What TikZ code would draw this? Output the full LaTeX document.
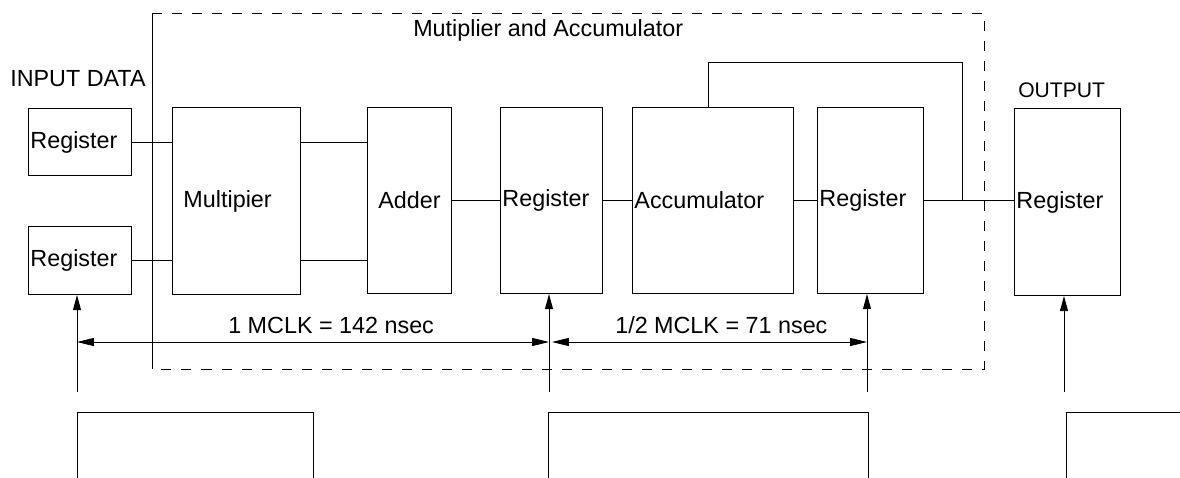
\documentclass[tikz,border=0pt]{standalone}
\usepackage{fontspec}
\setmainfont{Liberation Sans}
\usepackage{tikz}
\usetikzlibrary{arrows.meta,positioning}

\begin{document}
\begin{tikzpicture}[x=0.025cm,y=-0.025cm,
  every node/.style={font=\fontsize{16.6}{19}\selectfont},
  blk/.style={draw,line width=0.7pt,anchor=north west,align=left,
    inner ysep=0pt,inner xsep=0.05cm},
  lbl/.style={anchor=base west,inner sep=0pt},
  wire/.style={line width=0.6pt},
  clkarrow/.style={line width=0.7pt,-{Triangle[length=0.38cm,width=0.2cm]}},
  dimarrow/.style={line width=0.6pt,
    {Triangle[length=0.42cm,width=0.2cm]}-{Triangle[length=0.42cm,width=0.2cm]}},
  frame/.style={line width=0.6pt,dash pattern=on 0.25cm off 0.25cm},
]
\useasboundingbox (0,0) rectangle (1180,478);

% the multiplier and accumulator frame
\draw[frame] (152,13) -- (984,13) -- (984,369) -- (152,369);
\draw[line width=0.4pt] (152,13) -- (152,369);
\node[lbl] (title) at (413,37) {Mutiplier and Accumulator};

% the input registers
\node[lbl] (indata) at (10,87) {INPUT DATA};
\node[blk,text width=2.475cm,minimum height=1.675cm] (inreg1) at (28,108) {Register};
\node[blk,text width=2.475cm,minimum height=1.7cm] (inreg2) at (28,226) {Register};

% the pipeline
\node[blk,inner xsep=0.275cm,text width=2.65cm,minimum height=4.675cm] (mult) at (172,107) {Multipier};
\node[blk,align=center,text width=2cm,minimum height=4.65cm] (adder) at (367,107) {Adder};
\node[blk,text width=2.45cm,minimum height=4.65cm] (midreg) at (500,107) {Register};
\node[blk,text width=3.925cm,minimum height=4.65cm] (acc) at (632,107) {Accumulator};
\node[blk,text width=2.55cm,minimum height=4.65cm] (accreg) at (817,107) {Register};

% the output register
\node[lbl,font=\fontsize{15}{18}\selectfont] (outdata) at (1018,98) {OUTPUT};
\node[blk,text width=2.55cm,minimum height=4.675cm] (outreg) at (1014,108) {Register};

% data path
\draw[wire] (inreg1.east) -- (inreg1.east -| mult.west);
\draw[wire] (inreg2.east) -- (inreg2.east -| mult.west);
\draw[wire] (mult.east |- inreg1.east) -- (adder.west |- inreg1.east);
\draw[wire] (mult.east |- inreg2.east) -- (adder.west |- inreg2.east);
\draw[wire] (adder) -- (midreg);
\draw[wire] (midreg) -- (acc);
\draw[wire] (acc) -- (accreg);
\draw[wire] (accreg.east) -- (accreg.east -| outreg.west);

% feedback of the accumulator
\coordinate (fbl) at (708,62);
\coordinate (fbr) at (962,62);
\draw[wire] (fbl |- acc.north) -- (fbl) -- (fbr) -- (fbr |- accreg.east);

% clock inputs
\foreach \x/\r [count=\i] in {77/inreg2,549/midreg,867/accreg,1064/outreg}{
  \coordinate (clk\i) at (\x,392);
  \draw[clkarrow] (clk\i) -- (clk\i |- \r.south);
}

% clock periods
\coordinate (dimy) at (0,342);
\coordinate (dim2) at (552,342);
\draw[dimarrow] (clk1 |- dimy) -- (clk2 |- dimy);
\draw[dimarrow] (dim2) -- (clk3 |- dimy);
\node[lbl] (per1) at (228,334) {1 MCLK = 142 nsec};
\node[lbl] (per2) at (615,334) {1/2 MCLK = 71 nsec};

% the master clock
\draw[line width=0.7pt] (77,478) |- (313,412) |- (548,478) |- (868,412) |- (1066,478) |- (1180,412);
\end{tikzpicture}
\end{document}
